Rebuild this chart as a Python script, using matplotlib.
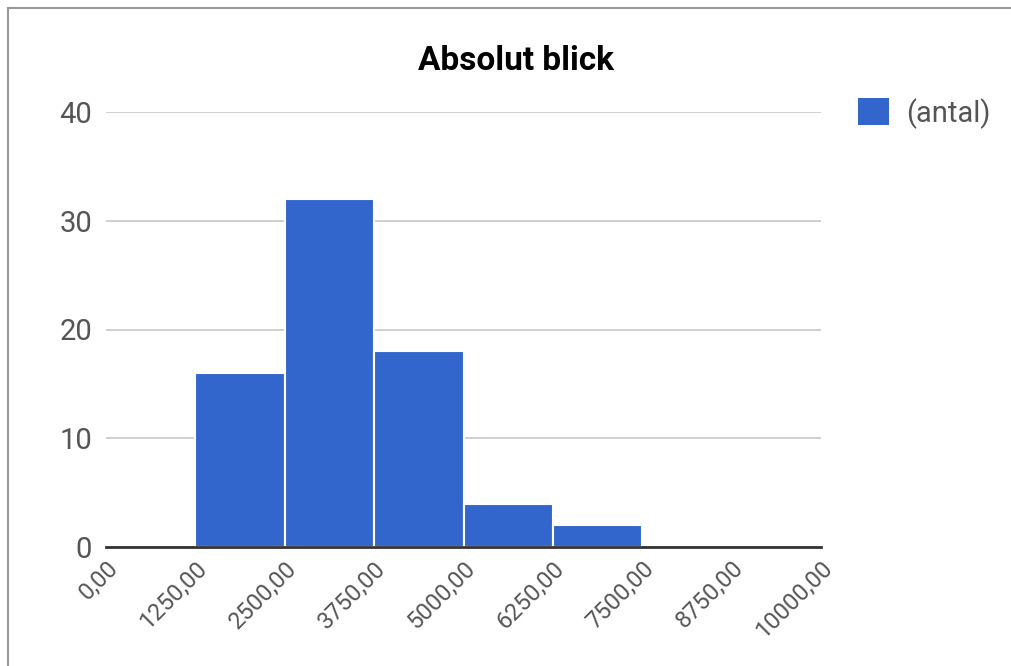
import matplotlib.pyplot as plt
from matplotlib.lines import Line2D
from matplotlib.patches import Patch

plt.rcParams['font.family'] = ['Roboto', 'DejaVu Sans']

# histogram bins (left edges) and counts
bin_edges = [1250, 2500, 3750, 5000, 6250]
bin_width = 1250
counts = [16, 32, 18, 4, 2]
x_ticks = [0, 1250, 2500, 3750, 5000, 6250, 7500, 8750, 10000]
y_ticks = [0, 10, 20, 30, 40]

blue = '#3366cc'
W, H = 1011, 666

fig = plt.figure(figsize=(W / 100, H / 100), dpi=100)
ax = fig.add_axes([106 / W, 1 - 547 / H, (821 - 106) / W, (547 - 112) / H])

ax.bar(bin_edges, counts, width=bin_width, align='edge', color=blue,
       edgecolor='white', linewidth=1.5, zorder=3)

ax.set_xlim(0, 10000)
ax.set_ylim(0, 40)
ax.set_xticks(x_ticks)
ax.set_xticklabels([f'{t:.2f}'.replace('.', ',') for t in x_ticks],
                   rotation=45, ha='right', va='top', rotation_mode='anchor',
                   fontsize=17, color='#555555')
ax.set_yticks(y_ticks)
ax.set_yticklabels([str(t) for t in y_ticks], fontsize=21, color='#555555')
ax.tick_params(axis='both', length=0)
ax.tick_params(axis='y', pad=10)
ax.tick_params(axis='x', pad=7)

ax.grid(axis='y', color='#cccccc', linewidth=1.3, zorder=0)
for side in ['top', 'right', 'left']:
    ax.spines[side].set_visible(False)
ax.spines['bottom'].set_color('#333333')
ax.spines['bottom'].set_linewidth(2)
ax.spines['bottom'].set_zorder(4)

fig.text(516 / W, 1 - 70 / H, 'Absolut blick', ha='center', va='baseline',
         fontsize=24, fontweight='bold', color='black')

fig.legend(handles=[Patch(facecolor=blue, label='(antal)')], loc='upper left',
           bbox_to_anchor=(858 / W, 1 - 98 / H), frameon=False, fontsize=21,
           labelcolor='#555555', handlelength=1.05, handleheight=1.05,
           handletextpad=0.6, borderpad=0, borderaxespad=0)

# outer frame (top and left edges)
fig.add_artist(Line2D([8 / W, 1], [1 - 8 / H, 1 - 8 / H],
                      transform=fig.transFigure, color='#999999', linewidth=1.5))
fig.add_artist(Line2D([8 / W, 8 / W], [0, 1 - 8 / H],
                      transform=fig.transFigure, color='#999999', linewidth=1.5))

fig.savefig('out.png', dpi=100)
